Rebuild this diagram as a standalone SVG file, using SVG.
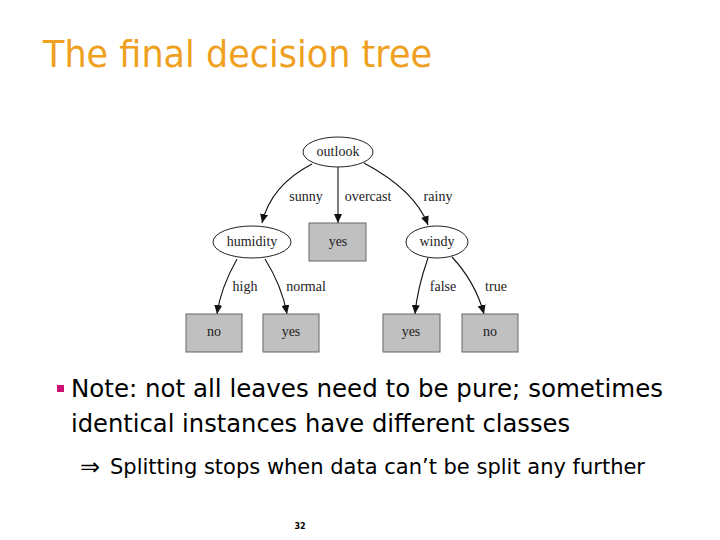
<svg xmlns="http://www.w3.org/2000/svg" width="720" height="540" viewBox="0 0 720 540">
<style>
.t{font-family:"Liberation Serif","Times New Roman",serif;font-size:14px;fill:#222;text-anchor:middle}
.e{fill:#fff;stroke:#222;stroke-width:1}
.r{fill:#c0c0c0;stroke:#666;stroke-width:1}
.c{fill:none;stroke:#111;stroke-width:1.1}
.b{font-family:"DejaVu Sans","Liberation Sans",sans-serif;fill:#000}
</style>
<defs>
<marker id="ah" markerWidth="10" markerHeight="8" refX="9" refY="4" orient="auto" markerUnits="userSpaceOnUse">
<path d="M0,0 L9,4 L0,8 z" fill="#111"/>
</marker>
</defs>
<rect width="720" height="540" fill="#fff"/>
<text x="43" y="67" font-family="DejaVu Sans,Liberation Sans,sans-serif" font-size="38" fill="#F0A020" textLength="389" lengthAdjust="spacingAndGlyphs">The final decision tree</text>

<g id="connectors">
<path class="c" d="M312,164 C285,178 268,198 262,223" marker-end="url(#ah)"/>
<path class="c" d="M338,167 L338,223" marker-end="url(#ah)"/>
<path class="c" d="M364,163 C392,178 418,198 428,225" marker-end="url(#ah)"/>
<path class="c" d="M237,259 C228,275 220,292 217,314" marker-end="url(#ah)"/>
<path class="c" d="M265,259 C275,275 283,292 287,314" marker-end="url(#ah)"/>
<path class="c" d="M428,258 C422,275 417,292 415,314" marker-end="url(#ah)"/>
<path class="c" d="M452,257 C466,272 478,292 484,314" marker-end="url(#ah)"/>
<text class="t" x="306" y="201">sunny</text>
<text class="t" x="368" y="201">overcast</text>
<text class="t" x="438" y="201">rainy</text>
<text class="t" x="245" y="291">high</text>
<text class="t" x="306" y="291">normal</text>
<text class="t" x="443" y="291">false</text>
<text class="t" x="496" y="291">true</text>
</g>

<g id="outlook"><ellipse class="e" cx="338" cy="152" rx="35" ry="15"/><text class="t" x="338" y="156">outlook</text></g>
<g id="humidity"><ellipse class="e" cx="252" cy="242" rx="39" ry="16"/><text class="t" x="252" y="246">humidity</text></g>
<g id="overcast-yes"><rect class="r" x="309" y="223" width="57" height="38"/><text class="t" x="338" y="246">yes</text></g>
<g id="windy"><ellipse class="e" cx="437" cy="242" rx="31" ry="16"/><text class="t" x="437" y="246">windy</text></g>
<g id="high-no"><rect class="r" x="186" y="314" width="56" height="38"/><text class="t" x="214" y="336">no</text></g>
<g id="normal-yes"><rect class="r" x="263" y="314" width="56" height="38"/><text class="t" x="291" y="336">yes</text></g>
<g id="false-yes"><rect class="r" x="383" y="314" width="57" height="38"/><text class="t" x="411" y="336">yes</text></g>
<g id="true-no"><rect class="r" x="462" y="314" width="56" height="38"/><text class="t" x="490" y="336">no</text></g>

<rect x="57" y="385" width="7" height="7" fill="#CC1177"/>
<text class="b" x="71" y="397" font-size="24" textLength="592" lengthAdjust="spacingAndGlyphs">Note: not all leaves need to be pure; sometimes</text>
<text class="b" x="71" y="432" font-size="24" textLength="499" lengthAdjust="spacingAndGlyphs">identical instances have different classes</text>
<text class="b" x="80" y="475" font-size="24" font-family="DejaVu Sans,sans-serif">⇒</text>
<text class="b" x="110" y="474" font-size="21" textLength="535" lengthAdjust="spacingAndGlyphs">Splitting stops when data can’t be split any further</text>
<text x="300" y="529" font-family="DejaVu Sans,sans-serif" font-size="8" font-weight="bold" text-anchor="middle" fill="#000">32</text>
</svg>
